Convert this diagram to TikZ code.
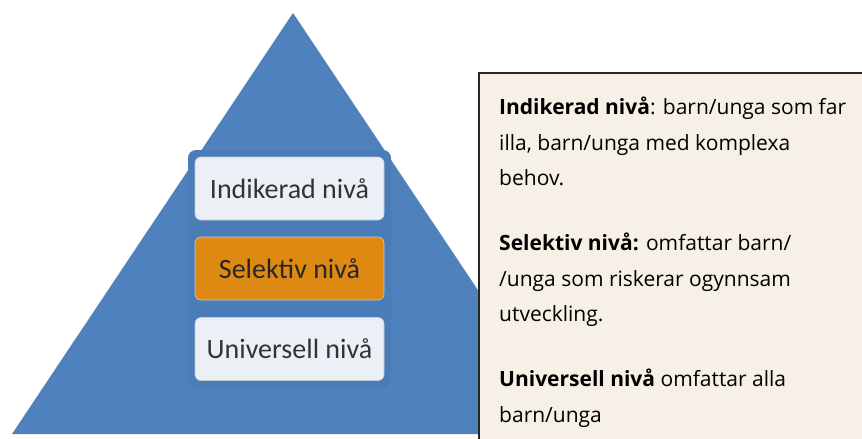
\documentclass[tikz,border=0pt]{standalone}
\usepackage{fontspec}
\setmainfont{Carlito}
\newfontfamily\descfont{Open Sans}
\definecolor{pyrblue}{HTML}{4F81BD}
\definecolor{pyrshade}{HTML}{4A7CB8}
\definecolor{levelfill}{HTML}{EBEFF6}
\definecolor{levelorange}{HTML}{DE8912}
\definecolor{descfill}{HTML}{F6F0E7}
\definecolor{leveltext}{HTML}{333333}
\tikzset{
  levelbox/.style={draw=levelfill!85!black, line width=0.6pt, rounded corners=6pt, minimum width=189pt, minimum height=63pt, inner sep=0pt, text=leveltext, font=\fontsize{28}{30}\selectfont},
}
\begin{document}
\begin{tikzpicture}[x=1pt,y=-1pt]
\useasboundingbox (0,0) rectangle (862,439);
\fill[white] (0,0) rectangle (862,439);
% pyramid
\fill[pyrblue] (293,13) -- (574,434) -- (12,434) -- cycle;
% shade behind the level boxes
\fill[pyrshade, rounded corners=8pt] (188,150) rectangle (391,388);
% level boxes
\node[levelbox, fill=levelfill] (ind) at (289.5,188.5) {Indikerad nivå};
\node[levelbox, fill=levelorange, text=black!85] (sel) at (289.5,268.5) {Selektiv nivå};
\node[levelbox, fill=levelfill] (uni) at (289.5,349) {Universell nivå};
% description box
\fill[descfill] (479,73) rectangle (862,439);
\draw[line width=1.2pt, black!85] (479,439) -- (479,73) -- (862,73);
\node[anchor=base west, inner sep=0pt, align=left, font=\descfont\fontsize{21}{35.5}\selectfont] (desc) at (499,422)
{\textbf{Indikerad nivå}: barn/unga som far\\
illa, barn/unga med komplexa\\
behov.\\[29.5pt]
\textbf{Selektiv nivå:} omfattar barn/\\
/unga som riskerar ogynnsam\\
utveckling.\\[29.5pt]
\textbf{Universell nivå} omfattar alla\\
barn/unga};
\end{tikzpicture}
\end{document}
